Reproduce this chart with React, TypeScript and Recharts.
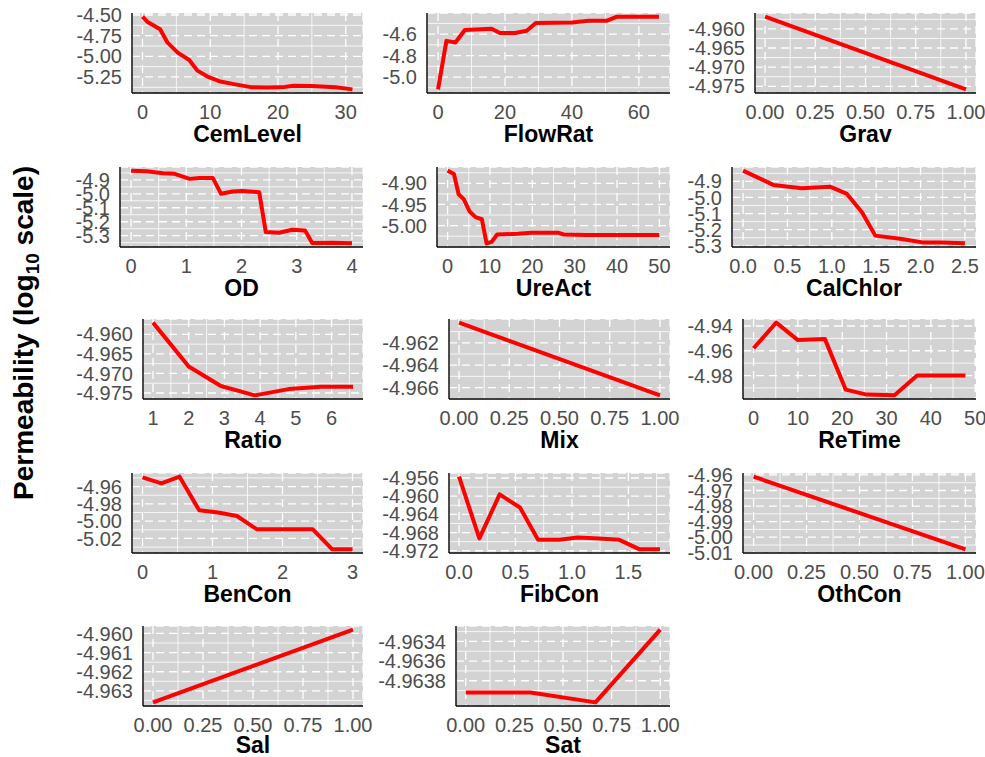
import React from 'react';
import { LineChart, Line, XAxis, YAxis, CartesianGrid } from 'recharts';

const FONT = '"Liberation Sans", Arial, Helvetica, sans-serif';

// ---------- data ----------
const cemX = [0, 0.7, 2.6, 3.7, 5.2, 6.9, 8.1, 9.6, 11.5, 13.5, 16, 18.5, 21, 22.3, 25, 28.5, 31];
const cemY = [-4.52, -4.581, -4.673, -4.835, -4.955, -5.044, -5.173, -5.245, -5.305, -5.337, -5.373, -5.376, -5.37, -5.355, -5.36, -5.375, -5.4];

const flowX = [0, 2.5, 5.2, 8, 16, 18.5, 23, 26.5, 29.2, 40, 45, 50.5, 53.5, 66];
const flowY = [-5.115, -4.663, -4.678, -4.562, -4.55, -4.59, -4.59, -4.569, -4.497, -4.491, -4.475, -4.475, -4.437, -4.437];

const gravX = [0, 1];
const gravY = [-4.9568, -4.9758];

const odX = [0, 0.28, 0.58, 0.79, 1.06, 1.24, 1.48, 1.63, 1.84, 2.02, 2.32, 2.44, 2.68, 2.92, 3.15, 3.28, 3.64, 4];
const odY = [-4.834, -4.839, -4.853, -4.857, -4.893, -4.886, -4.886, -5.0, -4.984, -4.98, -4.988, -5.274, -5.279, -5.257, -5.262, -5.353, -5.35, -5.355];

const ureX = [0, 1.5, 2.6, 3.8, 5.2, 6.6, 8.1, 9.2, 10.4, 11.7, 16.6, 19.8, 26.2, 27.4, 32.6, 50];
const ureY = [-4.87, -4.878, -4.926, -4.9375, -4.9665, -4.98, -4.985, -5.042, -5.0385, -5.021, -5.0195, -5.017, -5.017, -5.021, -5.022, -5.022];

const calX = [0, 0.34, 0.66, 0.98, 1.17, 1.34, 1.49, 1.79, 2.02, 2.24, 2.5];
const calY = [-4.8335, -4.922, -4.9435, -4.933, -4.978, -5.0925, -5.237, -5.258, -5.279, -5.28, -5.285];

const ratioX = [1, 2, 2.9, 3.85, 4.8, 5.7, 6.6];
const ratioY = [-4.957, -4.9682, -4.9732, -4.9756, -4.974, -4.9734, -4.9734];

const mixX = [0, 1];
const mixY = [-4.9602, -4.9667];

const reX = [0, 5.1, 10, 16.1, 20.8, 25.5, 31.8, 36.9, 47.8];
const reY = [-4.958, -4.9373, -4.9514, -4.9506, -4.9914, -4.9954, -4.996, -4.98, -4.98];

const benX = [0, 0.27, 0.53, 0.81, 1.08, 1.35, 1.63, 1.91, 2.43, 2.71, 3];
const benY = [-4.9493, -4.9562, -4.9485, -4.9875, -4.99, -4.994, -5.0093, -5.0093, -5.0093, -5.0326, -5.0326];

const fibX = [0, 0.18, 0.36, 0.54, 0.7, 0.89, 1.05, 1.24, 1.42, 1.6, 1.78];
const fibY = [-4.9557, -4.9693, -4.9596, -4.9625, -4.9696, -4.9696, -4.9691, -4.9693, -4.9696, -4.9717, -4.9717];

const othX = [0, 1];
const othY = [-4.9611, -5.0078];

const salX = [0, 1];
const salY = [-4.9636, -4.9598];

const satX = [0, 0.333, 0.667, 1];
const satY = [-4.96392, -4.96392, -4.96402, -4.96328];

// ---------- tick labels ----------
const ticks01 = [0, 0.25, 0.5, 0.75, 1];
const cemXT = [0, 10, 20, 30];
const cemYT = [-4.5, -4.75, -5.0, -5.25];
const flowXT = [0, 20, 40, 60];
const flowYT = [-4.6, -4.8, -5.0];
const gravYT = [-4.96, -4.965, -4.97, -4.975];
const odXT = [0, 1, 2, 3, 4];
const odYT = [-4.9, -5.0, -5.1, -5.2, -5.3];
const ureXT = [0, 10, 20, 30, 40, 50];
const ureYT = [-4.9, -4.95, -5.0];
const calXT = [0, 0.5, 1, 1.5, 2, 2.5];
const calYT = [-4.9, -5.0, -5.1, -5.2, -5.3];
const ratioXT = [1, 2, 3, 4, 5, 6];
const ratioYT = [-4.96, -4.965, -4.97, -4.975];
const mixYT = [-4.962, -4.964, -4.966];
const reXT = [0, 10, 20, 30, 40, 50];
const reYT = [-4.94, -4.96, -4.98];
const benXT = [0, 1, 2, 3];
const benYT = [-4.96, -4.98, -5.0, -5.02];
const fibXT = [0, 0.5, 1, 1.5];
const fibYT = [-4.956, -4.96, -4.964, -4.968, -4.972];
const othYT = [-4.96, -4.97, -4.98, -4.99, -5.0, -5.01];
const salYT = [-4.96, -4.961, -4.962, -4.963];
const satYT = [-4.9634, -4.9636, -4.9638];

// ---------- layout ----------
const CHART_LEFT = [45, 370, 675];
const PLOT_RIGHT = [363, 670, 976];
const PLOT_TOP = [13, 167, 319, 473, 626];
const PLOT_H = 80;
const TOP_M = 13;
const RIGHT_M = 30;
const XAXIS_H = 30;
const BOTTOM_M = 32;

type PanelDef = {
  name: string; xs: number[]; ys: number[]; xt: number[]; yt: number[];
  xd: number; yd: number; col: number; row: number; plotLeft: number;
};

const panels: PanelDef[] = [
  { name: 'CemLevel', xs: cemX, ys: cemY, xt: cemXT, yt: cemYT, xd: 0, yd: 2, col: 0, row: 0, plotLeft: 132 },
  { name: 'FlowRat', xs: flowX, ys: flowY, xt: flowXT, yt: flowYT, xd: 0, yd: 1, col: 1, row: 0, plotLeft: 427 },
  { name: 'Grav', xs: gravX, ys: gravY, xt: ticks01, yt: gravYT, xd: 2, yd: 3, col: 2, row: 0, plotLeft: 755 },
  { name: 'OD', xs: odX, ys: odY, xt: odXT, yt: odYT, xd: 0, yd: 1, col: 0, row: 1, plotLeft: 120 },
  { name: 'UreAct', xs: ureX, ys: ureY, xt: ureXT, yt: ureYT, xd: 0, yd: 2, col: 1, row: 1, plotLeft: 437 },
  { name: 'CalChlor', xs: calX, ys: calY, xt: calXT, yt: calYT, xd: 1, yd: 1, col: 2, row: 1, plotLeft: 732 },
  { name: 'Ratio', xs: ratioX, ys: ratioY, xt: ratioXT, yt: ratioYT, xd: 0, yd: 3, col: 0, row: 2, plotLeft: 143 },
  { name: 'Mix', xs: mixX, ys: mixY, xt: ticks01, yt: mixYT, xd: 2, yd: 3, col: 1, row: 2, plotLeft: 449 },
  { name: 'ReTime', xs: reX, ys: reY, xt: reXT, yt: reYT, xd: 0, yd: 2, col: 2, row: 2, plotLeft: 743 },
  { name: 'BenCon', xs: benX, ys: benY, xt: benXT, yt: benYT, xd: 0, yd: 2, col: 0, row: 3, plotLeft: 132 },
  { name: 'FibCon', xs: fibX, ys: fibY, xt: fibXT, yt: fibYT, xd: 1, yd: 3, col: 1, row: 3, plotLeft: 449 },
  { name: 'OthCon', xs: othX, ys: othY, xt: ticks01, yt: othYT, xd: 2, yd: 2, col: 2, row: 3, plotLeft: 743 },
  { name: 'Sal', xs: salX, ys: salY, xt: ticks01, yt: salYT, xd: 2, yd: 3, col: 0, row: 4, plotLeft: 143 },
  { name: 'Sat', xs: satX, ys: satY, xt: ticks01, yt: satYT, xd: 2, yd: 4, col: 1, row: 4, plotLeft: 456 },
];

function expand(vals: number[]): [number, number] {
  const lo = Math.min(...vals);
  const hi = Math.max(...vals);
  const pad = (hi - lo) * 0.05;
  return [lo - pad, hi + pad];
}

function minorOf(ticks: number[], dom: [number, number]): number[] {
  const s = [...ticks].sort((a, b) => a - b);
  const step = s[1] - s[0];
  const out: number[] = [];
  for (let i = -1; i < s.length; i++) {
    const v = s[0] + (i + 0.5) * step;
    if (v > dom[0] && v < dom[1]) out.push(v);
  }
  return out;
}

const fmt = (d: number) => (v: number) => v.toFixed(d);

function Panel({ p }: { p: PanelDef }) {
  const chartLeft = CHART_LEFT[p.col];
  const width = PLOT_RIGHT[p.col] + RIGHT_M - chartLeft;
  const height = TOP_M + PLOT_H + XAXIS_H + BOTTOM_M;
  const xDom = expand(p.xs);
  const yDom = expand(p.ys);
  const data = p.xs.map((x, i) => ({ x, y: p.ys[i] }));
  const tickStyle = { fill: '#4d4d4d', fontSize: 20, fontFamily: FONT };
  const border = { stroke: '#000', strokeWidth: 1.4 };
  const titleOffset = p.row === 4 ? 1 : 3;
  return (
    <div style={{ position: 'absolute', left: chartLeft, top: PLOT_TOP[p.row] - TOP_M }}>
      <LineChart width={width} height={height} data={data}
        margin={{ top: TOP_M, right: RIGHT_M, bottom: BOTTOM_M, left: 0 }}>
        <CartesianGrid fill="#d3d3d3" fillOpacity={1} stroke="#ffffff" strokeWidth={0.8}
          horizontalValues={minorOf(p.yt, yDom)} verticalValues={minorOf(p.xt, xDom)} />
        <CartesianGrid stroke="#ffffff" strokeWidth={1.3} strokeDasharray="8 5" />
        <XAxis type="number" dataKey="x" domain={xDom} ticks={p.xt} interval={0}
          allowDataOverflow tickFormatter={fmt(p.xd)} tick={tickStyle} fontSize={20}
          tickLine={false} tickSize={0} tickMargin={12} height={XAXIS_H}
          axisLine={border}
          label={{ value: p.name, position: 'bottom', offset: titleOffset, fill: '#000', fontSize: 23, fontWeight: 'bold', fontFamily: FONT }} />
        <YAxis type="number" dataKey="y" domain={yDom} ticks={p.yt} interval={0}
          allowDataOverflow tickFormatter={fmt(p.yd)} tick={tickStyle} fontSize={20}
          tickLine={false} tickSize={0} tickMargin={10} width={p.plotLeft - chartLeft}
          axisLine={border} />
        <XAxis xAxisId="top" orientation="top" type="number" dataKey="x" domain={xDom}
          allowDataOverflow height={0} tick={false} tickLine={false} axisLine={border} />
        <YAxis yAxisId="right" orientation="right" type="number" dataKey="y" domain={yDom}
          allowDataOverflow width={0} tick={false} tickLine={false} axisLine={border} />
        <Line type="linear" dataKey="y" stroke="#ff0000" strokeWidth={4} dot={false}
          strokeLinejoin="round" isAnimationActive={false} />
      </LineChart>
    </div>
  );
}

export default function App() {
  return (
    <div style={{ position: 'absolute', left: 0, top: 0, width: 985, height: 757, overflow: 'hidden', background: '#fff', fontFamily: FONT }}>
      <svg width={60} height={757} style={{ position: 'absolute', left: 0, top: 0 }}>
        <text transform="translate(33, 333) rotate(-90)" textAnchor="middle"
          fontSize={28} fontWeight="bold" fill="#000" fontFamily={FONT}>
          Permeability (log<tspan fontSize={19} dy={6}>10</tspan><tspan dy={-6}> scale)</tspan>
        </text>
      </svg>
      {panels.map((p) => <Panel key={p.name} p={p} />)}
    </div>
  );
}
